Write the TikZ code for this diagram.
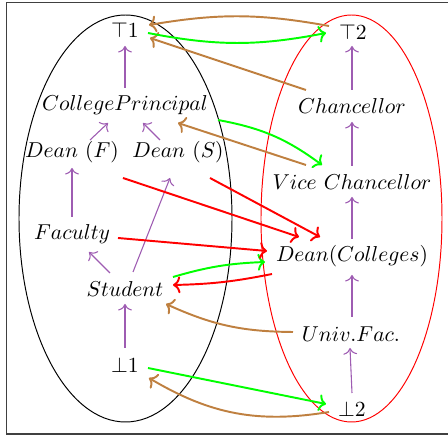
\documentclass[tikz,border=0pt]{standalone}
\usetikzlibrary{calc,arrows.meta}
\definecolor{hiercol}{rgb}{0.62,0.36,0.70}
\definecolor{browncol}{rgb}{0.75,0.50,0.25}
\definecolor{greencol}{rgb}{0,1,0}
\definecolor{redcol}{rgb}{1,0,0}
\begin{document}
\begin{tikzpicture}[x=0.464pt,y=-0.464pt,
  lbl/.style={inner sep=0pt},
  hier/.style={-{To[length=3pt,width=6.4pt]},draw=hiercol,line width=0.5pt},
  brw/.style={-{To[length=3.4pt,width=7.8pt]},draw=browncol,line width=0.9pt},
  grn/.style={-{To[length=3.4pt,width=7.8pt]},draw=greencol,line width=0.9pt},
  rdd/.style={-{To[length=3.4pt,width=7.8pt]},draw=redcol,line width=0.9pt}]
\useasboundingbox (0,0) rectangle (448,437);
% frame
\draw[black!75,line width=0.6pt] (452,2.5) -- (6.5,2.5) -- (6.5,434) -- (452,434);
% ellipses
\draw[black,line width=0.45pt] (125.5,218.5) ellipse [x radius=106.5, y radius=203.5];
\draw[red,line width=0.45pt] (351.5,218.5) ellipse [x radius=90.5, y radius=203.5];
% left nodes
\node[lbl] (t1) at (125,30) {$\top 1$};
\node[lbl] (cp) at (125,105) {$CollegePrincipal$};
\node[lbl] (df) at (72,152) {$Dean\ (F)$};
\node[lbl] (ds) at (178,152) {$Dean\ (S)$};
\node[lbl] (fa) at (72,234) {$Faculty$};
\node[lbl] (st) at (125,289) {$Student$};
\node[lbl] (b1) at (125,365) {$\bot 1$};
% right nodes
\node[lbl] (t2) at (353,32) {$\top 2$};
\node[lbl] (ch) at (352,106) {$Chancellor$};
\node[lbl] (vc) at (352,182) {$Vice\ Chancellor$};
\node[lbl] (dc) at (352,256) {$Dean(Colleges)$};
\node[lbl] (uf) at (351,334) {$Univ.Fac.$};
\node[lbl] (b2) at (352,409) {$\bot 2$};
% hierarchy (left)
\draw[hier] ([shift={(0,-17)}]cp.center) -- ([shift={(0,16)}]t1.center);
\draw[hier] ([shift={(18,-12)}]df.center) -- ([shift={(-17,18)}]cp.center);
\draw[hier] ([shift={(-18,-12)}]ds.center) -- ([shift={(18,18)}]cp.center);
\draw[hier] ([shift={(0,-17)}]fa.center) -- ([shift={(0,16)}]df.center);
\draw[hier] ([shift={(8,-17)}]st.center) -- ([shift={(-8,26)}]ds.center);
\draw[hier] ([shift={(-15,-16)}]st.center) -- ([shift={(17,18)}]fa.center);
\draw[hier] ([shift={(0,-17)}]b1.center) -- ([shift={(0,15)}]st.center);
% hierarchy (right)
\draw[hier] ([shift={(0,-16)}]ch.center) -- ([shift={(-1,14)}]t2.center);
\draw[hier] ([shift={(0,-16)}]vc.center) -- ([shift={(0,16)}]ch.center);
\draw[hier] ([shift={(0,-17)}]dc.center) -- ([shift={(0,15)}]vc.center);
\draw[hier] ([shift={(1,-17)}]uf.center) -- ([shift={(0,19)}]dc.center);
\draw[hier] ([shift={(0,-16)}]b2.center) -- ([shift={(-1,14)}]uf.center);
% brown
\draw[brw] ([shift={(-24,-6)}]t2.center) to[bend right=10] ([shift={(24,-5)}]t1.center);
\draw[brw] ([shift={(-46,-16)}]ch.center) -- ([shift={(25,8)}]t1.center);
\draw[brw] ([shift={(-46,-17)}]vc.center) -- ([shift={(53,18)}]cp.center);
\draw[brw] ([shift={(-58,-2)}]uf.center) to[bend left=12] ([shift={(41,15)}]st.center);
\draw[brw] ([shift={(-23,3)}]b2.center) to[bend left=20] ([shift={(24,13)}]b1.center);
% green
\draw[grn] ([shift={(23,3)}]t1.center) to[bend right=11] ([shift={(-27,1)}]t2.center);
\draw[grn] ([shift={(93,15)}]cp.center) to[bend left=13] ([shift={(-30,-17)}]vc.center);
\draw[grn] ([shift={(48,-12)}]st.center) to[bend left=7] ([shift={(-87,6)}]dc.center);
\draw[grn] ([shift={(23,3)}]b1.center) -- ([shift={(-26,-5)}]b2.center);
% red
\draw[rdd] ([shift={(51,26)}]df.center) -- ([shift={(-53,-19)}]dc.center);
\draw[rdd] ([shift={(32,26)}]ds.center) -- ([shift={(-32,-19)}]dc.center);
\draw[rdd] ([shift={(46,4)}]fa.center) -- ([shift={(-85,-5)}]dc.center);
\draw[rdd] ([shift={(-80,18)}]dc.center) to[bend left=5] ([shift={(48,-4)}]st.center);
\end{tikzpicture}
\end{document}
